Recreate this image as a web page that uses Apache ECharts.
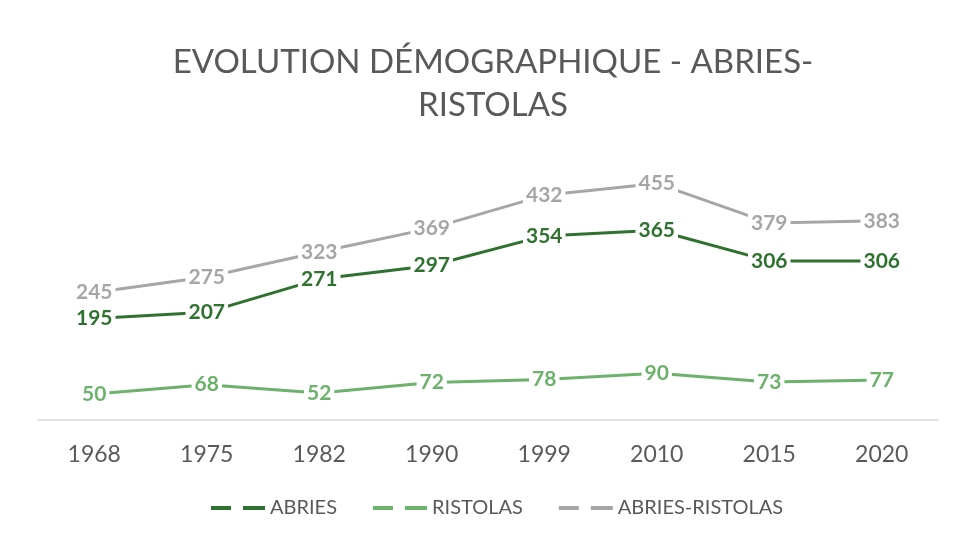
<!DOCTYPE html>
<html>
<head>
<meta charset="utf-8">
<style>
  html, body { margin: 0; padding: 0; background: #fff; }
  #main { width: 958px; height: 541px; }
</style>
<script src="https://cdn.jsdelivr.net/npm/echarts@6/dist/echarts.min.js"></script>
</head>
<body>
<div id="main"></div>
<script>
// données
const years = ['1968', '1975', '1982', '1990', '1999', '2010', '2015', '2020']
const abries = [195, 207, 271, 297, 354, 365, 306, 306]
const ristolas = [50, 68, 52, 72, 78, 90, 73, 77]
const abriesRistolas = [245, 275, 323, 369, 432, 455, 379, 383]

const FONT = 'Lato, "Noto Sans", sans-serif'
const TEXT_COLOR = '#595959'

const chart = echarts.init(document.getElementById('main'))

function makeSeries(name, data, color) {
  return {
    name: name,
    type: 'line',
    data: data,
    symbol: 'circle',
    symbolSize: 1,
    showSymbol: true,
    itemStyle: { color: color },
    lineStyle: { color: color, width: 3 },
    label: {
      show: true,
      position: 'inside',
      color: color,
      fontFamily: FONT,
      fontWeight: 'bold',
      fontSize: 21,
      backgroundColor: '#fff',
      padding: [1, 3]
    },
    emphasis: { disabled: true }
  }
}

const option = {
  animation: false,
  backgroundColor: '#fff',
  title: {
    text: 'EVOLUTION DÉMOGRAPHIQUE - ABRIES-\nRISTOLAS',
    left: 488,
    top: 36,
    textAlign: 'center',
    textStyle: {
      fontFamily: FONT,
      fontWeight: 'normal',
      fontSize: 33,
      lineHeight: 43,
      color: TEXT_COLOR
    }
  },
  legend: {
    bottom: 18,
    left: 206,
    itemWidth: 54,
    itemHeight: 4,
    itemGap: 36,
    icon: 'path://M0,0H20V4H0Z M32,0H54V4H32Z',
    textStyle: { fontFamily: FONT, fontSize: 20, color: TEXT_COLOR },
    data: ['ABRIES', 'RISTOLAS', 'ABRIES-RISTOLAS']
  },
  grid: { left: 38, right: 20, top: 160, bottom: 121 },
  xAxis: {
    type: 'category',
    data: years,
    boundaryGap: true,
    axisLine: { lineStyle: { color: '#d9d9d9', width: 1.5 } },
    axisTick: { show: false },
    axisLabel: {
      fontFamily: FONT,
      fontSize: 23,
      color: TEXT_COLOR,
      margin: 23
    }
  },
  yAxis: {
    type: 'value',
    min: 0,
    max: 500,
    show: false,
    splitLine: { show: false }
  },
  series: [
    makeSeries('ABRIES', abries, '#2f722f'),
    makeSeries('RISTOLAS', ristolas, '#6cb26c'),
    makeSeries('ABRIES-RISTOLAS', abriesRistolas, '#a6a6a6')
  ]
}

chart.setOption(option)
</script>
</body>
</html>
